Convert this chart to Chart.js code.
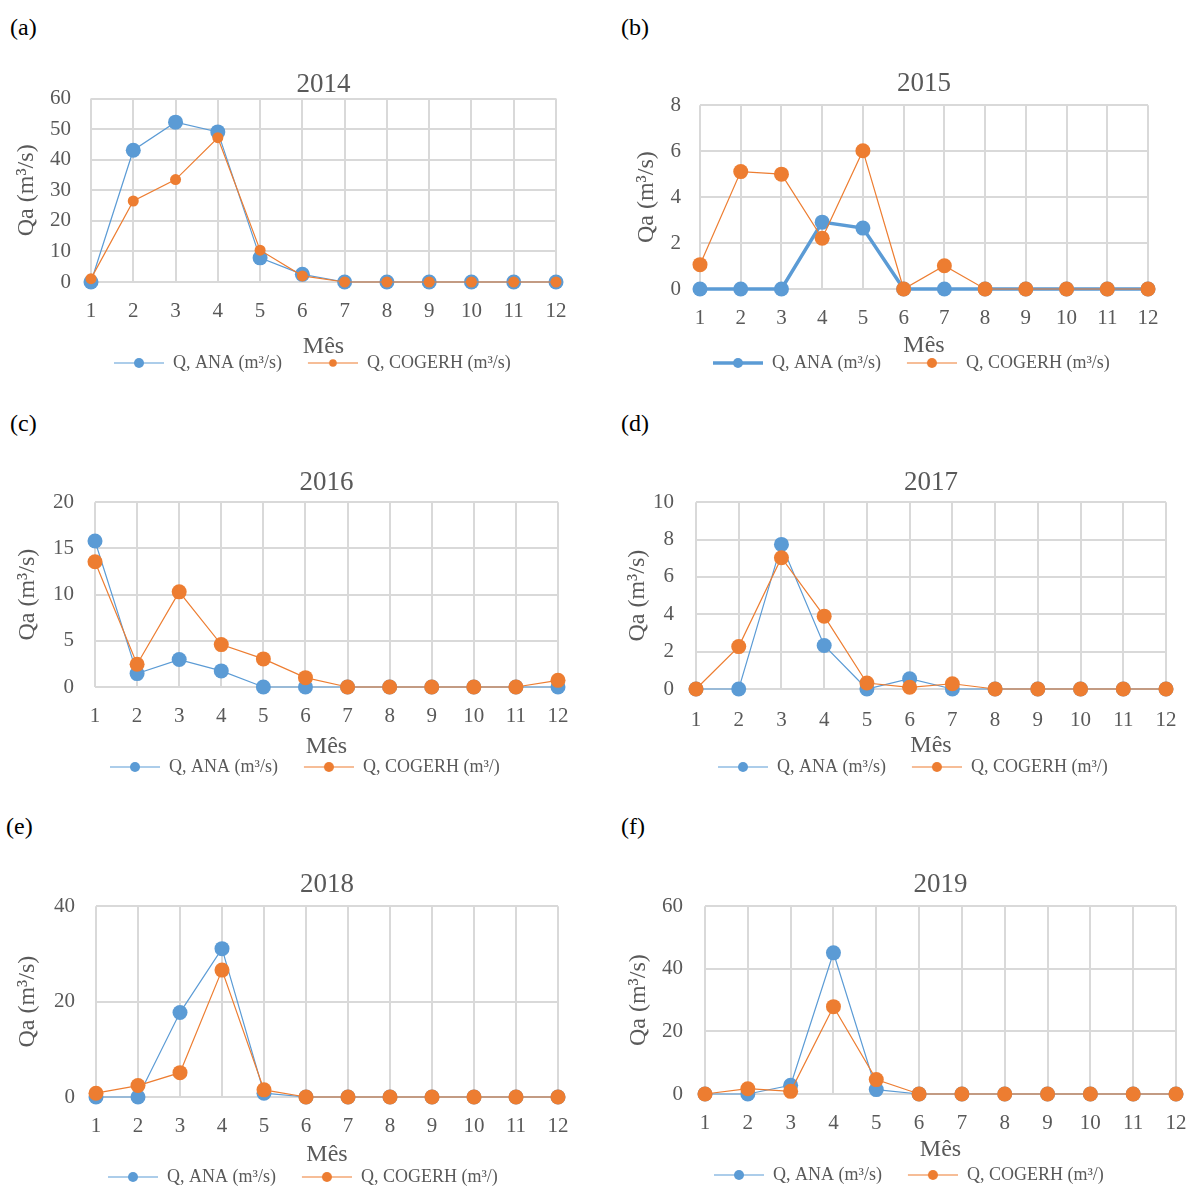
<!DOCTYPE html>
<html><head><meta charset="utf-8">
<script src="https://cdn.jsdelivr.net/npm/chart.js@4.4.1/dist/chart.umd.min.js"></script>
<style>
html,body{margin:0;padding:0;background:#fff;}
body{width:1189px;height:1187px;position:relative;overflow:hidden;font-family:"Liberation Serif","Times New Roman",serif;}
.plab{position:absolute;font-size:24px;color:#000;line-height:28px;}
canvas{position:absolute;}
</style></head><body>
<div class="plab" style="left:10px;top:13px">(a)</div>
<div class="plab" style="left:621px;top:13px">(b)</div>
<div class="plab" style="left:10px;top:409px">(c)</div>
<div class="plab" style="left:621px;top:409px">(d)</div>
<div class="plab" style="left:6px;top:812px">(e)</div>
<div class="plab" style="left:621px;top:812px">(f)</div>
<canvas id="ca"></canvas><canvas id="cb"></canvas><canvas id="cc"></canvas>
<canvas id="cd"></canvas><canvas id="ce"></canvas><canvas id="cf"></canvas>
<script>
// ---------- data ----------
const months = ['1','2','3','4','5','6','7','8','9','10','11','12'];
const years = ['2014','2015','2016','2017','2018','2019'];
const anaLabel = 'Q, ANA (m³/s)';
const cogerhLabels = ['Q, COGERH (m³/s)','Q, COGERH (m³/s)','Q, COGERH (m³/)','Q, COGERH (m³/)','Q, COGERH (m³/)','Q, COGERH (m³/)'];
const xTitle = 'Mês';
const yTitle = 'Qa (m³/s)';

const ana2014 = [0, 43.1, 52.3, 49.1, 7.9, 2.5, 0, 0, 0, 0, 0, 0];
const cog2014 = [1.1, 26.5, 33.5, 47.2, 10.4, 2.0, 0, 0, 0, 0, 0, 0];
const ana2015 = [0, 0, 0, 2.91, 2.65, 0, 0, 0, 0, 0, 0, 0];
const cog2015 = [1.06, 5.11, 5.0, 2.21, 6.02, 0, 1.01, 0, 0, 0, 0, 0];
const ana2016 = [15.8, 1.45, 2.97, 1.74, 0, 0, 0, 0, 0, 0, 0, 0];
const cog2016 = [13.56, 2.46, 10.3, 4.59, 3.04, 1.01, 0, 0, 0, 0, 0, 0.72];
const ana2017 = [0, 0, 7.74, 2.33, 0, 0.55, 0, 0, 0, 0, 0, 0];
const cog2017 = [0, 2.27, 7.03, 3.9, 0.32, 0.09, 0.28, 0, 0, 0, 0, 0];
const ana2018 = [0, 0, 17.7, 31.1, 0.8, 0, 0, 0, 0, 0, 0, 0];
const cog2018 = [0.8, 2.4, 5.1, 26.6, 1.5, 0, 0, 0, 0, 0, 0, 0];
const ana2019 = [0, 0, 2.8, 45.1, 1.4, 0, 0, 0, 0, 0, 0, 0];
const cog2019 = [0, 1.7, 0.85, 27.9, 4.6, 0, 0, 0, 0, 0, 0, 0];

const yMaxes = [60, 8, 20, 10, 40, 60];
const ySteps = [10, 2, 5, 2, 20, 20];
const anaSeries = [ana2014, ana2015, ana2016, ana2017, ana2018, ana2019];
const cogSeries = [cog2014, cog2015, cog2016, cog2017, cog2018, cog2019];

// ---------- layout / style ----------
const FONT = '"Liberation Serif", "Times New Roman", serif';
const BLUE = '#5B9BD5', ORANGE = '#ED7D31', TXT = '#595959', GRID = '#d9d9d9';
const SZ = {tick: 21, title: 27, axis: 24, legend: 18};
const geo = [
  {id:'ca', cl:0,   cw:590, pL:91,  pR:556,  pT:98,  pB:282,  titleY:84,  yTitleX:27,  yTickR:71,  xTickY:311,  xTitleY:347,  legendY:363,  legendX:114},
  {id:'cb', cl:600, cw:589, pL:700, pR:1148, pT:105, pB:289,  titleY:84,  yTitleX:647, yTickR:681, xTickY:318,  xTitleY:346,  legendY:363,  legendX:713},
  {id:'cc', cl:0,   cw:590, pL:95,  pR:558,  pT:502, pB:687,  titleY:483, yTitleX:28,  yTickR:74,  xTickY:716,  xTitleY:747,  legendY:767,  legendX:110},
  {id:'cd', cl:600, cw:589, pL:696, pR:1166, pT:502, pB:689,  titleY:483, yTitleX:638, yTickR:674, xTickY:720,  xTitleY:746,  legendY:767,  legendX:718},
  {id:'ce', cl:0,   cw:590, pL:96,  pR:558,  pT:906, pB:1097, titleY:885, yTitleX:28,  yTickR:75,  xTickY:1126, xTitleY:1155, legendY:1177, legendX:108},
  {id:'cf', cl:600, cw:589, pL:705, pR:1176, pT:906, pB:1094, titleY:885, yTitleX:639, yTickR:683, xTickY:1123, xTitleY:1150, legendY:1175, legendX:714}
];
// per-panel series styling
const sty = [
  {aw:1.2, ar:7.5, cw:1.2, cr:5.5, lar:5, lcr:3.8},
  {aw:3.5, ar:7.5, cw:1.2, cr:7.5, lar:5, lcr:5},
  {aw:1.2, ar:7.5, cw:1.2, cr:7.5, lar:5, lcr:5},
  {aw:1.2, ar:7.5, cw:1.2, cr:7.5, lar:5, lcr:5},
  {aw:1.2, ar:7.5, cw:1.2, cr:7.5, lar:5, lcr:5},
  {aw:1.2, ar:7.5, cw:1.2, cr:7.5, lar:5, lcr:5}
];

const LW = 74, LGAP = 24; // legend symbol box width, transparent left margin
function legendSymbol(color, lw, r) {
  const c = document.createElement('canvas');
  c.width = LW; c.height = 20;
  const x = c.getContext('2d');
  x.strokeStyle = color; x.lineWidth = lw;
  x.beginPath(); x.moveTo(LGAP, 10); x.lineTo(LW, 10); x.stroke();
  x.fillStyle = color; x.beginPath(); x.arc(LGAP + (LW - LGAP) / 2, 10, r, 0, Math.PI * 2); x.fill();
  return c;
}

function build(i) {
  const g = geo[i], s = sty[i];
  const cv = document.getElementById(g.id);
  const tLH = SZ.title * 1.2, aLH = SZ.axis * 1.2, kLH = SZ.tick * 1.2;
  const titlePadTop = 2;
  const ct = g.titleY - titlePadTop - tLH / 2;
  const titlePadBottom = g.pT - ct - titlePadTop - tLH;
  const lp = 2;
  const legendTop = g.legendY - lp - SZ.legend / 2;
  const legendH = SZ.legend + lp + 10;
  const ch = legendTop + legendH - ct;
  const padLeft = g.yTitleX - g.cl - aLH / 2;
  const padRight = g.cl + g.cw - g.pR;
  const yW = g.pL - g.cl - padLeft;
  const xH = legendTop - g.pB;
  const xTitlePadBottom = legendTop - aLH / 2 - g.xTitleY;
  cv.width = g.cw; cv.height = Math.round(ch);
  cv.style.left = g.cl + 'px'; cv.style.top = ct + 'px';
  const symbols = [legendSymbol(BLUE, s.aw, s.lar), legendSymbol(ORANGE, s.cw, s.lcr)];
  const tickFont = {family: FONT, size: SZ.tick};
  const axFont = {family: FONT, size: SZ.axis};
  new Chart(cv, {
    type: 'line',
    data: {
      labels: months,
      datasets: [
        {label: anaLabel, data: anaSeries[i], borderColor: BLUE, backgroundColor: BLUE, borderWidth: s.aw,
         pointRadius: s.ar, pointBackgroundColor: BLUE, pointBorderWidth: 0, tension: 0, order: 1, clip: false},
        {label: cogerhLabels[i], data: cogSeries[i], borderColor: ORANGE, backgroundColor: ORANGE, borderWidth: s.cw,
         pointRadius: s.cr, pointBackgroundColor: ORANGE, pointBorderWidth: 0, tension: 0, order: 0, clip: false}
      ]
    },
    options: {
      responsive: false, animation: false, events: [],
      layout: {padding: {left: padLeft, right: padRight, top: 0, bottom: 0}},
      plugins: {
        title: {display: true, fullSize: false, text: years[i], color: TXT, font: {family: FONT, size: SZ.title, weight: 'normal'},
                padding: {top: titlePadTop, bottom: titlePadBottom}},
        tooltip: {enabled: false},
        legend: {
          position: 'bottom', align: 'start',
          labels: {
            usePointStyle: true, pointStyleWidth: LW, padding: lp, color: TXT,
            font: {family: FONT, size: SZ.legend},
            generateLabels: (chart) => chart.data.datasets.map((ds, k) => ({
              text: ds.label, pointStyle: symbols[k], datasetIndex: k, hidden: false,
              fillStyle: ds.borderColor, strokeStyle: ds.borderColor, lineWidth: 0, fontColor: TXT
            }))
          }
        }
      },
      scales: {
        x: {
          type: 'category', offset: false,
          grid: {color: GRID, lineWidth: 2, drawTicks: true, tickLength: g.xTickY - g.pB - kLH / 2, tickColor: 'rgba(0,0,0,0)'},
          border: {display: false},
          ticks: {color: TXT, font: tickFont, padding: 0, maxRotation: 0, autoSkip: false},
          title: {display: true, text: xTitle, color: TXT, font: axFont, padding: {top: 0, bottom: xTitlePadBottom}},
          afterFit: (sc) => { sc.height = xH; }
        },
        y: {
          min: 0, max: yMaxes[i],
          grid: {color: GRID, lineWidth: 2, drawTicks: false},
          border: {display: false},
          ticks: {stepSize: ySteps[i], color: TXT, font: tickFont, padding: g.pL - g.yTickR},
          title: {display: true, text: yTitle, color: TXT, font: axFont, padding: {top: 0, bottom: 0}},
          afterFit: (sc) => { sc.width = yW; }
        }
      }
    },
    plugins: [{
      id: 'legendPlace',
      afterLayout(chart) {
        const lg = chart.legend;
        const w = lg.right - lg.left;
        const left = g.legendX - g.cl - LGAP - lp;
        lg.left = left; lg.right = left + w;
      }
    }]
  });
}
for (let i = 0; i < 6; i++) build(i);
</script>
</body></html>
